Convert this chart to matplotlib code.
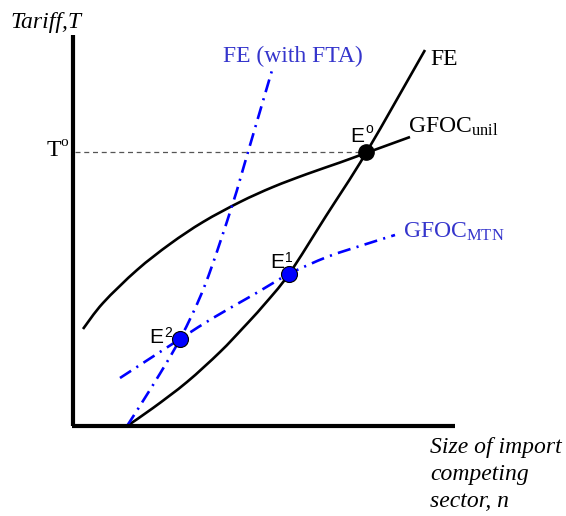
import matplotlib
matplotlib.use("Agg")
import matplotlib.pyplot as plt
from matplotlib.path import Path
from matplotlib.patches import PathPatch

plt.rcParams['mathtext.fontset'] = 'custom'
plt.rcParams['mathtext.rm'] = 'Liberation Serif'
plt.rcParams['mathtext.it'] = 'Liberation Serif:italic'

# ---- data (diagram units: n horizontal, T vertical) ----
fe_n = [5.4, 8.0, 11.4, 14.7, 17.0, 19.0, 21.6, 25.3, 29.3, 35.2]
fe_t = [0.0, 1.8, 4.4, 7.4, 9.8, 12.0, 15.2, 21.0, 27.3, 37.6]

gu_n = [1.0, 3.0, 6.4, 9.7, 13.0, 16.7, 20.0, 23.4, 26.7, 29.3, 33.7]
gu_t = [9.7, 12.3, 15.6, 18.2, 20.4, 22.4, 23.9, 25.2, 26.35, 27.3, 28.9]

fta_n = [5.4, 8.0, 10.7, 13.2, 15.9, 17.5, 20.0]
fta_t = [0.0, 4.1, 8.7, 14.1, 22.0, 27.4, 35.9]

mtn_n = [4.7, 10.7, 14.0, 18.0, 21.6, 25.4, 28.7, 32.2]
mtn_t = [4.8, 8.7, 10.8, 13.1, 15.2, 16.9, 18.0, 19.1]

t0 = 27.4
e0 = (29.3, 27.4)
e1 = (21.6, 15.2)
e2 = (10.7, 8.7)

n_max = 38.2
t_max = 39.1

BLUE = '#0000FF'
BLUE_TXT = '#3535CC'


def smooth_path(xs, ys):
    """Smooth path through the given points (Catmull-Rom drawn as cubic Beziers)."""
    pts = list(zip(xs, ys))
    P = [pts[0]] + pts + [pts[-1]]
    verts = [pts[0]]
    codes = [Path.MOVETO]
    for i in range(1, len(P) - 2):
        p0, p1, p2, p3 = P[i - 1], P[i], P[i + 1], P[i + 2]
        c1 = (p1[0] + (p2[0] - p0[0]) / 6.0, p1[1] + (p2[1] - p0[1]) / 6.0)
        c2 = (p2[0] - (p3[0] - p1[0]) / 6.0, p2[1] - (p3[1] - p1[1]) / 6.0)
        verts += [c1, c2, p2]
        codes += [Path.CURVE4] * 3
    return Path(verts, codes)


fig = plt.figure(figsize=(5.66, 5.16), dpi=100)
ax = fig.add_axes([0, 0, 1, 1])
ax.set_xlim(-7.3, 49.3)
ax.set_ylim(-9.0, 42.6)
ax.axis('off')

# axes
ax.plot([0, 0], [0, t_max], color='black', lw=3, solid_capstyle='butt')
ax.plot([-0.1, n_max], [0, 0], color='black', lw=3, solid_capstyle='butt')

# T0 dashed
ax.plot([0.2, e0[0]], [t0, t0], color='#555555', lw=0.9, dashes=(4, 3))

# curves
for xs, ys in [(gu_n, gu_t), (fe_n, fe_t)]:
    ax.add_patch(PathPatch(smooth_path(xs, ys), fill=False, edgecolor='black',
                           lw=1.9, capstyle='butt'))
dd = (0, (5, 2.4, 0.8, 2.4))
for xs, ys in [(fta_n, fta_t), (mtn_n, mtn_t)]:
    ax.add_patch(PathPatch(smooth_path(xs, ys), fill=False, edgecolor=BLUE,
                           lw=1.9, linestyle=dd, capstyle='butt'))

# points
ax.plot([e0[0]], [e0[1]], 'o', color='black', ms=11, zorder=5)
ax.plot([e1[0], e2[0]], [e1[1], e2[1]], 'o', mfc=BLUE, mec='black', mew=0.8, ms=11.5, zorder=5)

serif = 'Liberation Serif'
sans = 'Liberation Sans'
fs = 17

ax.text(-6.3, 39.8, 'Tariff,T', family=serif, style='italic', fontsize=fs, va='baseline')
ax.text(15.0, 36.4, 'FE (with FTA)', family=serif, fontsize=fs, color=BLUE_TXT, va='baseline')
ax.text(35.7, 36.1, 'FE', family=serif, fontsize=fs, va='baseline')
ax.text(33.5, 29.3, r'GFOC$_{\mathregular{unil}}$', family=serif, fontsize=fs, va='baseline')
ax.text(33.0, 18.8, r'GFOC$_{\mathregular{MTN}}$', family=serif, fontsize=fs, color=BLUE_TXT, va='baseline')

ax.text(-2.6, 27.0, 'T', family=serif, fontsize=fs, va='baseline')
ax.text(-1.3, 28.0, 'o', family=serif, fontsize=11, va='baseline')

ax.text(27.7, 28.4, 'E', family=sans, fontsize=15, va='baseline')
ax.text(29.2, 29.3, 'o', family=sans, fontsize=10, va='baseline')
ax.text(19.7, 15.8, 'E', family=sans, fontsize=15, va='baseline')
ax.text(21.2, 16.4, '1', family=sans, fontsize=10, va='baseline')
ax.text(7.6, 8.3, 'E', family=sans, fontsize=15, va='baseline')
ax.text(9.1, 8.9, '2', family=sans, fontsize=10, va='baseline')

ax.text(35.7, -2.7, 'Size of import', family=serif, style='italic', fontsize=fs, va='baseline')
ax.text(35.7, -5.4, 'competing', family=serif, style='italic', fontsize=fs, va='baseline')
ax.text(35.7, -8.1, 'sector, n', family=serif, style='italic', fontsize=fs, va='baseline')

fig.savefig('out.png', dpi=100)
